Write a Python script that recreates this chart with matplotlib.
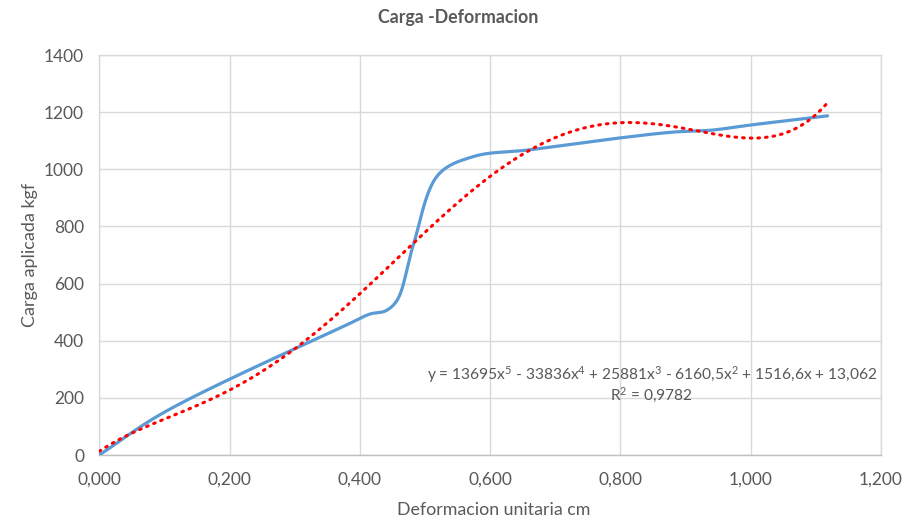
import numpy as np
import matplotlib
matplotlib.use("Agg")
import matplotlib.pyplot as plt
from matplotlib.ticker import FuncFormatter, MultipleLocator

plt.rcParams['font.family'] = ['Lato', 'DejaVu Sans']
plt.rcParams['mathtext.fontset'] = 'custom'
plt.rcParams['mathtext.rm'] = 'Lato'
plt.rcParams['mathtext.it'] = 'Lato:italic'
plt.rcParams['mathtext.bf'] = 'Lato:bold'

# Measured load-deformation data
deformacion = [0.000, 0.100, 0.385, 0.415, 0.440, 0.458, 0.482,
               0.520, 0.575, 0.660, 0.800, 0.880, 0.940, 1.000, 1.118]
carga = [0, 150, 461, 493, 505, 545, 735,
         980, 1045, 1068, 1110, 1130, 1137, 1155, 1187]

# 5th-degree polynomial trendline coefficients (highest power first)
coef_poly = [13695, -33836, 25881, -6160.5, 1516.6, 13.062]
r2 = 0.9782

BLUE = "#5B9BD5"
GRID = "#D9D9D9"
TXT = "#595959"


def catmull_rom(xs, ys, n=40):
    """Centripetal Catmull-Rom curve through the points (smoothed line)."""
    P = np.column_stack([xs, ys]).astype(float)
    # work in roughly isotropic units so the curve shape is sensible
    scale = np.array([650.0, 400.0 / 1400.0])
    Q = P * scale
    Q = np.vstack([2 * Q[0] - Q[1], Q, 2 * Q[-1] - Q[-2]])
    out = []
    for i in range(1, len(Q) - 2):
        p0, p1, p2, p3 = Q[i - 1], Q[i], Q[i + 1], Q[i + 2]
        def tj(ti, a, b):
            return ti + np.linalg.norm(b - a) ** 0.5
        t0 = 0.0
        t1 = tj(t0, p0, p1)
        t2 = tj(t1, p1, p2)
        t3 = tj(t2, p2, p3)
        t = np.linspace(t1, t2, n)[:, None]
        a1 = (t1 - t) / (t1 - t0) * p0 + (t - t0) / (t1 - t0) * p1
        a2 = (t2 - t) / (t2 - t1) * p1 + (t - t1) / (t2 - t1) * p2
        a3 = (t3 - t) / (t3 - t2) * p2 + (t - t2) / (t3 - t2) * p3
        b1 = (t2 - t) / (t2 - t0) * a1 + (t - t0) / (t2 - t0) * a2
        b2 = (t3 - t) / (t3 - t1) * a2 + (t - t1) / (t3 - t1) * a3
        c = (t2 - t) / (t2 - t1) * b1 + (t - t1) / (t2 - t1) * b2
        out.append(c if i == 1 else c[1:])
    C = np.vstack(out) / scale
    return C[:, 0], C[:, 1]


fig = plt.figure(figsize=(9.18, 5.23), dpi=100)
ax = fig.add_axes([99.3 / 918, 1 - 455 / 523, (881 - 99.3) / 918, 400 / 523])

sx, sy = catmull_rom(deformacion, carga)
ax.plot(sx, sy, color=BLUE, lw=2.3, solid_capstyle='round', zorder=3)

xt = np.linspace(min(deformacion), max(deformacion), 400)
yt = np.polyval(coef_poly, xt)
ax.plot(xt, yt, color="#FF0000", lw=2.2, linestyle=(0, (0.55, 1.95)),
        dash_capstyle='round', zorder=4)

ax.set_xlim(0, 1.2)
ax.set_ylim(0, 1400)
ax.xaxis.set_major_locator(MultipleLocator(0.2))
ax.yaxis.set_major_locator(MultipleLocator(200))
ax.xaxis.set_major_formatter(FuncFormatter(lambda v, p: f"{v:.3f}".replace(".", ",")))
ax.yaxis.set_major_formatter(FuncFormatter(lambda v, p: f"{v:.0f}"))

ax.grid(True, color=GRID, lw=1.0)
ax.set_axisbelow(True)
for side in ["top", "right", "left"]:
    ax.spines[side].set_color(GRID)
    ax.spines[side].set_linewidth(1.0)
ax.spines["bottom"].set_color("#BFBFBF")
ax.spines["bottom"].set_linewidth(1.0)
ax.tick_params(length=0, labelsize=12.5, colors=TXT)
ax.tick_params(axis='x', pad=12)
ax.tick_params(axis='y', pad=11)

ax.set_xlabel("Deformacion unitaria cm", fontsize=12.8, color=TXT, va="center")
ax.xaxis.set_label_coords((494 - 99.3) / 781.7, (455 - 510) / 400)
ax.set_ylabel("Carga aplicada kgf", fontsize=13, color=TXT, va="center")
ax.yaxis.set_label_coords((30 - 99.3) / 781.7, 0.5)
fig.text(458 / 918, 1 - 18 / 523, "Carga -Deformacion", ha="center", va="center",
         fontsize=12.8, fontweight="bold", color=TXT)

eq = ("y = 13695x$^{5}$ - 33836x$^{4}$ + 25881x$^{3}$ - 6160,5x$^{2}$ "
      "+ 1516,6x + 13,062")
ax.text(0.848, 280, eq, ha="center", va="center", fontsize=11.2, color=TXT)
ax.text(0.848, 210, "R$^{2}$ = " + f"{r2}".replace(".", ","), ha="center",
        va="center", fontsize=11.2, color=TXT)

fig.savefig("out.png", dpi=100)
